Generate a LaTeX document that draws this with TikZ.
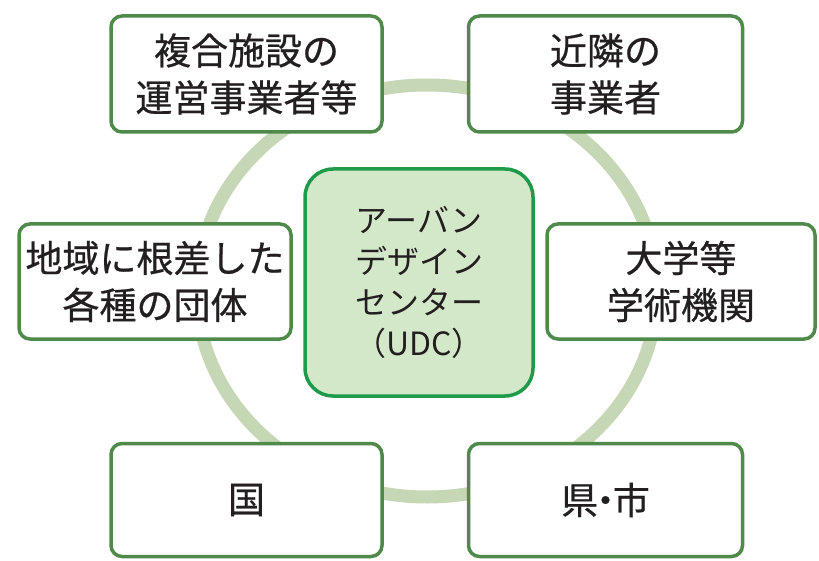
\documentclass[tikz,border=0pt]{standalone}
\usepackage{fontspec}
\setmainfont{Noto Sans CJK JP}
\newfontfamily\outerfont[FakeBold=0.6]{Noto Sans CJK JP}
\definecolor{boxline}{HTML}{4F8A4B}
\definecolor{ringcol}{HTML}{C5D7B4}
\definecolor{udcline}{HTML}{1E9A4A}
\definecolor{udcfill}{HTML}{D3E8C9}
\definecolor{txt}{HTML}{231F20}
\tikzset{
  obox/.style={draw=boxline, line width=3.5pt, fill=white, rounded corners=11pt,
    align=center, inner sep=1pt, text=txt,
    font=\outerfont\fontsize{37}{47}\selectfont},
  cbox/.style={draw=udcline, line width=3.5pt, fill=udcfill, rounded corners=28pt,
    align=center, inner sep=1pt, text=txt,
    font=\fontsize{32}{41}\selectfont},
}
\begin{document}
\begin{tikzpicture}[x=1pt, y=-1pt]
\useasboundingbox (0,0) rectangle (819,561);
\fill[white] (0,0) rectangle (819,561);
% ring
\draw[ringcol, line width=13pt] (427,291) ellipse [x radius=230, y radius=206];
% outer boxes
\node[obox, minimum width=271, minimum height=116] (ops) at (246.5,74) {複合施設の\\運営事業者等};
\node[obox, minimum width=274, minimum height=116] (near) at (605.5,74) {近隣の\\事業者};
\node[obox, minimum width=272, minimum height=115] (local) at (155,281.5) {地域に根差した\\各種の団体};
\node[obox, minimum width=268, minimum height=115] (univ) at (681,281.5) {大学等\\学術機関};
\node[obox, minimum width=271, minimum height=113] (nation) at (246.5,500) {国};
\node[obox, minimum width=274, minimum height=113] (pref) at (605.5,500) {県\kern-0.3em・\kern-0.3em市};
% center
\node[cbox, minimum width=228, minimum height=227] (udc) at (419,282.5) {アーバン\\デザイン\\センター\\（UDC）};
\end{tikzpicture}
\end{document}
